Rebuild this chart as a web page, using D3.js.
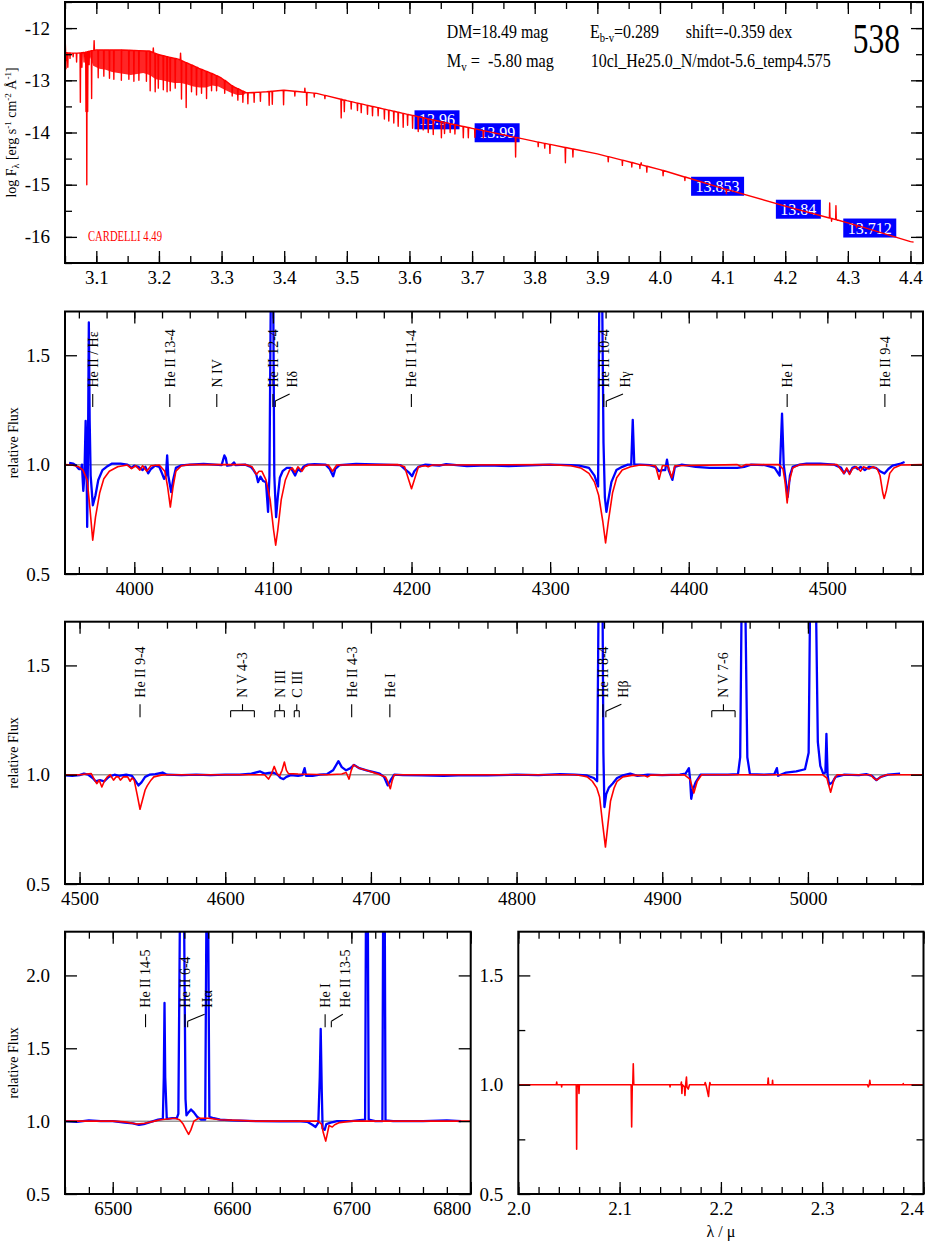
<!DOCTYPE html>
<html><head><meta charset="utf-8">
<script src="https://cdn.jsdelivr.net/npm/d3@7"></script>
<style>
body{margin:0;background:#fff}
svg{display:block}
</style></head>
<body><svg id="c" width="926" height="1245" style="font-family:'Liberation Serif',serif"></svg>
<script>
// ---------------- DATA ----------------
// Panel 1: SED (log lambda, log F)
const sedContinuum = [[3.050,-12.47],[3.060,-12.48],[3.070,-12.48],[3.080,-12.47],[3.090,-12.44],[3.100,-12.42],[3.140,-12.42],[3.185,-12.44],[3.200,-12.51],[3.232,-12.60],[3.264,-12.77],[3.287,-12.88],[3.300,-12.96],[3.319,-13.12],[3.340,-13.24],[3.372,-13.22],[3.400,-13.19],[3.452,-13.25],[3.500,-13.39],[3.548,-13.52],[3.600,-13.66],[3.680,-13.87],[3.700,-13.92],[3.800,-14.17],[3.900,-14.41],[4.000,-14.71],[4.100,-15.07],[4.200,-15.41],[4.300,-15.73],[4.400,-16.09],[4.405,-16.10]];
const sedForestLow = [[3.090,-12.55],[3.095,-12.72],[3.105,-12.78],[3.115,-12.80],[3.125,-12.84],[3.135,-12.86],[3.145,-12.88],[3.155,-12.90],[3.165,-12.88],[3.175,-12.86],[3.185,-12.90],[3.195,-12.98],[3.205,-13.00],[3.215,-13.03],[3.225,-13.05],[3.235,-13.05],[3.245,-13.08],[3.255,-13.12],[3.265,-13.14],[3.275,-13.14],[3.285,-13.10],[3.295,-13.12],[3.305,-13.18],[3.315,-13.24],[3.325,-13.28],[3.335,-13.28],[3.340,-13.24]];
const sedLines = [[3.0505,-12.30],[3.0515,-12.78],[3.053,-12.62],[3.0545,-12.75],[3.058,-12.58],[3.063,-12.55],[3.0685,-12.65],[3.0745,-13.42],[3.077,-12.75],[3.0805,-12.65],[3.0835,-13.6],[3.0848,-15.0],[3.0862,-13.6],[3.0885,-12.7],[3.0925,-13.35],[3.0965,-12.24],[3.103,-12.95],[3.112,-12.92],[3.121,-12.96],[3.128,-12.98],[3.140,-13.0],[3.152,-12.98],[3.160,-13.02],[3.168,-13.0],[3.180,-13.02],[3.186,-13.2],[3.191,-12.38],[3.194,-13.22],[3.199,-13.15],[3.207,-13.18],[3.213,-13.22],[3.218,-13.2],[3.226,-13.15],[3.2345,-12.48],[3.236,-13.36],[3.2435,-13.52],[3.252,-13.22],[3.260,-13.28],[3.268,-13.25],[3.276,-13.35],[3.284,-13.2],[3.292,-13.2],[3.305,-13.25],[3.317,-13.3],[3.326,-13.38],[3.334,-13.42],[3.342,-13.45],[3.352,-13.42],[3.362,-13.40],[3.376,-13.48],[3.381,-13.46],[3.399,-13.47],[3.417,-13.30],[3.433,-13.15],[3.436,-13.48],[3.448,-13.32],[3.465,-13.35],[3.491,-13.72],[3.496,-13.60],[3.507,-13.55],[3.517,-13.58],[3.523,-13.62],[3.533,-13.65],[3.541,-13.68],[3.550,-13.68],[3.560,-13.74],[3.567,-13.78],[3.575,-13.82],[3.582,-13.88],[3.590,-13.90],[3.597,-13.86],[3.605,-13.92],[3.614,-13.98],[3.622,-13.95],[3.630,-14.0],[3.638,-14.04],[3.651,-14.10],[3.656,-14.02],[3.665,-14.0],[3.6726,-14.03],[3.686,-14.10],[3.694,-14.10],[3.7045,-14.09],[3.718,-14.10],[3.7695,-14.47],[3.8056,-14.27],[3.816,-14.30],[3.8243,-14.40],[3.849,-14.58],[3.861,-14.47],[3.9174,-14.56],[3.940,-14.63],[3.955,-14.66],[3.968,-14.69],[3.970,-14.58],[3.979,-14.76],[4.005,-14.83],[4.0398,-14.92],[4.106,-15.17],[4.271,-15.35],[4.274,-15.70],[4.281,-15.40],[4.283,-15.68],[4.314,-15.82]];
const photLabels = ["13.96","13.99","13.853","13.84","13.712"];
const photLogLam = [3.644, 3.740, 4.092, 4.221, 4.335];
const photLogF = [-13.757, -14.005, -15.03, -15.47, -15.83];

// Panel 2: 3950-4569 A
const p2Obs = [[3953,1.008],[3956,1.005],[3958,0.995],[3960,0.98],[3961.5,0.98],[3962.2,1.0],[3963.2,0.88],[3964,0.95],[3964.9,1.2],[3965.5,1.05],[3966,0.715],[3966.5,1.0],[3967.2,1.65],[3967.8,1.2],[3968.5,0.95],[3970.1,0.814],[3972,0.86],[3974,0.93],[3977,0.975],[3980,0.99],[3984,1.005],[3990,1.005],[3995,1.0],[3998,0.985],[4000,0.995],[4003,0.99],[4006,0.975],[4008,0.99],[4010,0.96],[4012,0.98],[4015,0.995],[4018,0.99],[4020,0.96],[4021.5,0.935],[4022.8,0.95],[4023.7,1.042],[4024.5,0.95],[4026.6,0.875],[4028,0.93],[4030,0.985],[4034,0.997],[4040,1.0],[4050,1.003],[4058,1.0],[4063,0.998],[4065,1.042],[4066,1.03],[4067,0.995],[4070,0.998],[4072,1.01],[4073,0.998],[4080,1.0],[4084,0.99],[4086,0.975],[4088,0.955],[4089.3,0.92],[4091,0.945],[4093,0.925],[4095,0.92],[4096.5,0.784],[4097.5,0.95],[4098.5,1.8],[4100.2,1.8],[4101,0.95],[4102.3,0.76],[4103.5,0.85],[4105,0.94],[4107,0.97],[4110,0.985],[4113,0.985],[4116,0.95],[4118,0.98],[4120,0.97],[4122,0.99],[4125,1.0],[4130,1.002],[4138,1.0],[4141,0.98],[4143.5,0.947],[4145,0.98],[4148,0.998],[4160,1.003],[4180,1.0],[4192,0.998],[4195,0.98],[4198,0.965],[4200.4,0.947],[4202,0.97],[4205,0.99],[4210,1.0],[4220,0.995],[4225,1.002],[4240,0.993],[4250,0.996],[4260,0.995],[4270,0.993],[4280,0.996],[4300,1.0],[4315,0.998],[4321,0.995],[4328,0.985],[4332,0.95],[4334.6,0.90],[4335.5,1.8],[4337.5,1.8],[4338.5,1.1],[4339.5,0.85],[4340.6,0.784],[4342,0.84],[4344.2,0.92],[4347.8,0.975],[4352,0.99],[4356,1.0],[4358.5,1.0],[4359.6,1.205],[4360.7,1.0],[4365,1.0],[4372,0.998],[4376,0.99],[4378.6,0.97],[4381,0.975],[4383,0.975],[4384.3,1.023],[4385.5,0.975],[4388.2,0.93],[4390,0.99],[4395,1.0],[4405,0.99],[4415,0.985],[4425,0.985],[4435,0.985],[4440,0.99],[4445,1.0],[4455,0.998],[4462,0.985],[4465.6,0.95],[4467.3,1.233],[4468.5,1.0],[4471.4,0.852],[4473,0.95],[4475,0.99],[4480,1.0],[4485,1.005],[4495,1.005],[4505,1.0],[4510,0.985],[4512,0.96],[4514,0.98],[4516,0.96],[4518,0.985],[4520,0.99],[4522,0.98],[4524,0.99],[4527,0.975],[4530,0.99],[4535,0.985],[4538,0.97],[4541.2,0.959],[4544,0.98],[4547,0.995],[4550,1.0],[4553,1.005],[4555.7,1.012]];
const p2Model = [[3950,1.0],[3955,0.998],[3960,0.99],[3963,0.975],[3966,0.93],[3968,0.80],[3970,0.655],[3972,0.76],[3975,0.87],[3978,0.935],[3982,0.97],[3988,0.99],[3995,0.998],[3998,0.982],[4001,0.995],[4004,0.975],[4006,0.995],[4009,0.97],[4012,0.995],[4018,0.998],[4022,0.97],[4024,0.9],[4026,0.806],[4028,0.9],[4030,0.97],[4034,0.995],[4040,1.0],[4080,1.0],[4085,0.99],[4088,0.955],[4090,0.97],[4092,0.97],[4095,0.93],[4098,0.84],[4100.5,0.70],[4102,0.632],[4103.5,0.70],[4106,0.84],[4109,0.93],[4112,0.975],[4114,0.985],[4116,0.965],[4118,0.99],[4121,0.97],[4123,0.99],[4126,0.998],[4140,0.998],[4143,0.97],[4146,0.998],[4190,1.0],[4195,0.99],[4198,0.93],[4200,0.89],[4202,0.93],[4205,0.99],[4210,0.995],[4212,0.99],[4215,0.998],[4300,1.0],[4315,0.995],[4322,0.985],[4328,0.96],[4332,0.92],[4335,0.86],[4338,0.74],[4340,0.642],[4342,0.74],[4345,0.87],[4348,0.94],[4352,0.975],[4358,0.99],[4365,0.998],[4376,0.995],[4378.6,0.933],[4381,0.995],[4385,0.995],[4387.7,0.94],[4390,0.995],[4435,1.0],[4438,0.99],[4441,1.0],[4465,1.0],[4468,0.98],[4469.5,0.92],[4471,0.825],[4472.5,0.92],[4475,0.985],[4480,1.0],[4507,1.0],[4510,0.975],[4512,0.96],[4514,0.985],[4516,0.955],[4518,0.98],[4521,0.99],[4524,0.97],[4526,0.99],[4530,0.98],[4533,0.99],[4536,0.98],[4538,0.95],[4540,0.87],[4541,0.845],[4542.5,0.88],[4545,0.96],[4548,0.985],[4553,0.998],[4569,1.0]];
const p2Ids = [["He II / Hε",3970,3970],["He II 13-4",4025.6,4025.6],["N IV",4059.5,4059.5],["He II 12-4",4100,4100],["Hδ",4101.7,4113.5],["He II 11-4",4199.9,4199.9],["He II 10-4",4338.7,4338.7],["Hγ",4340.5,4354],["He I",4471,4471],["He II 9-4",4541.5,4541.5]];

// Panel 3: 4490-5079 A
const p3Obs = [[4490,0.997],[4495,0.995],[4500,0.998],[4503,1.005],[4506,1.0],[4509,0.985],[4511,0.97],[4514,0.975],[4517,0.97],[4520,0.99],[4524,1.0],[4527,0.995],[4532,1.0],[4536,0.995],[4538,0.975],[4540.4,0.951],[4542.5,0.965],[4545,0.99],[4548,1.0],[4552,1.003],[4557,1.01],[4560,1.0],[4570,0.998],[4580,1.0],[4590,0.998],[4600,1.0],[4610,1.0],[4618,1.005],[4624,1.015],[4627,1.005],[4630,1.008],[4633,1.01],[4636,1.0],[4638,0.985],[4640,0.98],[4642,0.99],[4645,0.998],[4650,0.995],[4653,0.998],[4654.5,1.03],[4655.5,0.995],[4660,0.995],[4665,1.0],[4670,1.003],[4674,1.02],[4677.7,1.062],[4680,1.035],[4683,1.02],[4686,1.03],[4688.4,1.045],[4692,1.03],[4697,1.02],[4702,1.012],[4706,1.005],[4709,0.99],[4711.6,0.951],[4713.5,0.975],[4716,1.0],[4722,0.998],[4735,0.997],[4750,0.995],[4765,0.998],[4780,0.997],[4800,1.0],[4815,0.998],[4830,1.003],[4840,1.0],[4848,0.997],[4853,0.985],[4855.3,0.97],[4856.3,1.8],[4859,1.8],[4859.6,1.1],[4860.3,0.852],[4861.5,0.91],[4863.3,0.94],[4866,0.96],[4869,0.985],[4873,0.997],[4878,1.005],[4883,0.995],[4890,1.0],[4900,0.998],[4912,1.0],[4916,1.005],[4918.3,1.03],[4919.1,0.98],[4919.9,0.89],[4921,0.93],[4922.9,0.965],[4926.3,1.0],[4935,1.0],[4945,1.0],[4952,1.003],[4953.5,1.08],[4954.5,1.8],[4957,1.8],[4958.4,1.08],[4960.2,1.003],[4970,1.0],[4977,1.003],[4978.7,1.03],[4979.5,0.995],[4985,1.01],[4992,1.015],[4998,1.025],[5000.5,1.1],[5001.5,1.8],[5005.5,1.8],[5006.8,1.15],[5008.5,1.04],[5010.5,1.005],[5012,1.01],[5012.7,1.187],[5013.5,1.0],[5014.5,0.955],[5016.8,0.965],[5019,0.99],[5025,1.0],[5035,0.998],[5040,1.003],[5044,0.995],[5047,0.975],[5050,0.99],[5055,1.0],[5063.3,1.005]];
const p3Model = [[4490,1.0],[4500,1.0],[4505,1.003],[4508,1.005],[4510,0.98],[4511.8,0.959],[4513.5,0.975],[4515.3,0.944],[4517,0.97],[4519,0.99],[4521,1.0],[4523.3,0.975],[4525,0.99],[4526.7,0.99],[4528,0.975],[4530,0.99],[4533,0.99],[4534.7,0.97],[4536,0.985],[4537.5,0.975],[4539.5,0.91],[4541.5,0.842],[4543,0.88],[4545,0.93],[4546.5,0.95],[4549,0.975],[4551,0.99],[4556,0.998],[4560,1.0],[4620,1.0],[4627,1.0],[4629.7,0.98],[4631.5,1.0],[4633.6,1.038],[4635.5,1.005],[4637.3,0.995],[4639,1.02],[4640.6,1.058],[4642,1.02],[4643.4,1.005],[4650,1.003],[4670,1.0],[4680,1.003],[4683,1.01],[4685,0.98],[4686.5,1.02],[4688,1.045],[4692,1.03],[4697,1.02],[4704,1.005],[4710,0.99],[4711.5,0.97],[4713.3,0.936],[4714.5,0.97],[4716,1.0],[4720,1.0],[4840,1.0],[4845,0.995],[4848.5,0.99],[4852,0.97],[4855,0.94],[4857,0.898],[4859,0.78],[4861,0.669],[4862.5,0.76],[4864.5,0.88],[4867,0.94],[4869,0.97],[4873,0.99],[4880,0.998],[4888,0.995],[4890,0.99],[4892,0.998],[4915,1.0],[4919,0.98],[4921.7,0.916],[4924,0.97],[4927,1.0],[5010,1.0],[5013,0.985],[5015.6,0.92],[5018,0.98],[5020,1.0],[5043,1.0],[5045,0.985],[5047.2,0.975],[5050,0.99],[5054,1.0],[5079,1.0]];
const p3Ids = [["He II 9-4",4541.5,4541.5],["He II 4-3",4686.8,4686.8],["He I",4713,4713],["He II 8-4",4859.3,4859.3],["Hβ",4861.3,4873.3]];
const p3Brackets = [["N V 4-3",4603.7,4620.0],["N III",4634.1,4640.6],["C III",4647.4,4650.8],["N V 7-6",4934,4950]];

// Panel 4: 6460-6800 A
const p4Obs = [[6460,1.0],[6470,0.995],[6480,1.005],[6490,1.0],[6500,1.0],[6510,0.99],[6517,0.985],[6522,0.975],[6526,0.98],[6532,0.995],[6538,1.01],[6542,1.015],[6542.8,1.3],[6543.4,1.811],[6544,1.3],[6545.3,1.015],[6550,1.02],[6553.7,1.02],[6555,1.05],[6556.3,2.4],[6559.8,2.4],[6561,1.15],[6561.8,1.04],[6563.5,1.06],[6565.6,1.08],[6568,1.06],[6570.7,1.03],[6574,1.01],[6577.5,1.01],[6578.5,2.4],[6580,2.4],[6581,1.03],[6584.6,1.02],[6590,1.01],[6600,1.005],[6620,1.0],[6640,0.998],[6655,1.0],[6663,0.995],[6667.3,0.975],[6670,0.96],[6672.3,0.99],[6673.5,1.3],[6674.3,1.633],[6675.2,1.2],[6675.9,0.95],[6677.6,0.94],[6679,0.98],[6682.6,0.99],[6688,1.0],[6700,1.0],[6705,1.005],[6711.5,1.01],[6712.2,2.4],[6713.8,2.4],[6714.5,1.01],[6720,1.0],[6726,1.0],[6726.6,2.4],[6728,2.4],[6728.6,1.005],[6735,1.0],[6760,1.0],[6780,1.005],[6792,1.0]];
const p4Model = [[6460,1.0],[6500,1.0],[6510,0.995],[6520,0.98],[6527,0.985],[6535,1.0],[6540,1.01],[6552,1.02],[6556,1.01],[6559,0.98],[6561.5,0.94],[6563.6,0.909],[6565.5,0.94],[6568,1.0],[6572,1.02],[6580,1.02],[6590,1.01],[6605,1.005],[6620,1.0],[6665,1.0],[6672,1.0],[6675,0.98],[6676.5,0.92],[6678.5,0.863],[6680,0.92],[6681.3,0.97],[6682.5,0.965],[6684,0.96],[6686,0.975],[6690,0.99],[6700,1.0],[6800,1.0]];
const p4Ids = [["He II 14-5",6527.5,6527.5],["He II 6-4",6560.5,6560.5],["Hα",6562.8,6578.7],["He I",6678,6678],["He II 13-5",6683.2,6694.5]];

// Panel 5: 2.0-2.4 micron (model only)
const p5Model = [[2.0,1.0],[2.0375,1.0],[2.0379,1.012],[2.0383,1.0],[2.0425,1.0],[2.0428,0.99],[2.0431,1.0],[2.0572,1.0],[2.0576,0.705],[2.058,1.0],[2.0595,1.0],[2.0599,0.96],[2.0603,1.0],[2.1114,1.0],[2.1119,0.807],[2.1125,1.0],[2.113,1.0],[2.1135,1.096],[2.114,1.0],[2.1495,1.0],[2.1498,0.99],[2.1501,1.0],[2.1605,1.0],[2.161,1.012],[2.1615,0.96],[2.162,1.0],[2.164,0.99],[2.1645,0.951],[2.1652,1.0],[2.166,1.035],[2.1665,0.99],[2.1678,0.98],[2.169,1.0],[2.184,1.0],[2.1845,1.01],[2.1855,0.995],[2.1878,0.946],[2.1885,0.99],[2.1891,1.01],[2.1897,1.0],[2.2462,1.0],[2.2467,1.03],[2.2472,1.0],[2.2507,1.0],[2.251,1.02],[2.2513,1.0],[2.3448,1.0],[2.3454,0.99],[2.3465,1.0],[2.347,1.02],[2.3475,1.0],[2.3798,1.0],[2.38,1.005],[2.3802,1.0],[2.4,1.0]];

// ticks & labels
const p1XTicks = [3.1,3.2,3.3,3.4,3.5,3.6,3.7,3.8,3.9,4.0,4.1,4.2,4.3,4.4];
const p1XLabels = ["3.1","3.2","3.3","3.4","3.5","3.6","3.7","3.8","3.9","4.0","4.1","4.2","4.3","4.4"];
const p1YTicks = [-16,-15,-14,-13,-12];
const p1YLabels = ["-16","-15","-14","-13","-12"];
const p2XTicks = [4000,4100,4200,4300,4400,4500];
const p3XTicks = [4500,4600,4700,4800,4900,5000];
const p4XTicks = [6500,6600,6700,6800];
const p5XTicks = [2.0,2.1,2.2,2.3,2.4];
const p5XLabels = ["2.0","2.1","2.2","2.3","2.4"];
const fluxTicks = [0.5,1.0,1.5];
const fluxLabels = ["0.5","1.0","1.5"];
const p4YTicks = [0.5,1.0,1.5,2.0];
const p4YLabels = ["0.5","1.0","1.5","2.0"];

// ---------------- DRAWING ----------------
const FONT = "'Liberation Serif', serif";
const RED = "#ff0000", BLUE = "#0000ff";
const TICKFS = 19;
const svg = d3.select("#c");

function T(sel) { return sel.style("font-family", FONT); }

function stepTicks(a, b, s) { const out = []; for (let v = a; v <= b + s * 1e-6; v += s) out.push(+v.toFixed(6)); return out; }

function addAxis(p, orient, vals, size, labels) {
  const gen = {b: d3.axisBottom, t: d3.axisTop, l: d3.axisLeft, r: d3.axisRight}[orient];
  const sc = (orient === "b" || orient === "t") ? p.xs : p.ys;
  const ax = gen(sc).tickValues(vals).tickSizeInner(-size).tickSizeOuter(0)
    .tickPadding(orient === "l" ? 15 : 8)
    .tickFormat(labels ? (d, i) => labels[i] : () => "");
  const pos = {b: p.y1, t: p.y0, l: p.x0, r: p.x1}[orient];
  const g = svg.append("g")
    .attr("transform", (orient === "b" || orient === "t") ? `translate(0,${pos})` : `translate(${pos},0)`)
    .call(ax);
  g.select(".domain").remove();
  g.attr("font-family", null).attr("font-size", TICKFS);
  g.selectAll(".tick line").attr("stroke", "#000").attr("stroke-width", 1.3);
  T(g.selectAll(".tick text")).attr("fill", "#000").style("font-size", TICKFS + "px");
  if (orient === "b" && labels) {
    g.selectAll(".tick").each(function(d) {
      const t = d3.select(this).select("text");
      const w = t.node().getComputedTextLength();
      const tx = p.xs(d);
      if (tx + w / 2 > p.x1 + 1) t.attr("x", p.x1 - w / 2 - tx);
    });
  }
  return g;
}

function makePanel(p) {
  p.xs = d3.scaleLinear().domain(p.xd).range([p.x0, p.x1]);
  p.ys = d3.scaleLinear().domain(p.yd).range([p.y1, p.y0]);
  if (p.refLine) {
    svg.append("line").attr("x1", p.x0).attr("x2", p.x1)
      .attr("y1", p.ys(1)).attr("y2", p.ys(1))
      .attr("stroke", "#9a9a9a").attr("stroke-width", 1.5);
  }
  const cid = "clip" + p.name;
  svg.append("clipPath").attr("id", cid).append("rect")
    .attr("x", p.x0).attr("y", p.y0).attr("width", p.x1 - p.x0).attr("height", p.y1 - p.y0);
  p.plot = svg.append("g").attr("clip-path", `url(#${cid})`);
  return p;
}

function finishPanel(p) {
  if (p.xMinor) { addAxis(p, "b", p.xMinor, 7, null); addAxis(p, "t", p.xMinor, 7, null); }
  if (p.yMinor) { addAxis(p, "l", p.yMinor, 7, null); addAxis(p, "r", p.yMinor, 7, null); }
  addAxis(p, "b", p.xMajor, 12, p.xLabels);
  addAxis(p, "t", p.xMajor, 12, null);
  addAxis(p, "l", p.yMajor, 12, p.yLabels);
  addAxis(p, "r", p.yMajor, 12, null);
  svg.append("rect").attr("x", p.x0).attr("y", p.y0)
    .attr("width", p.x1 - p.x0).attr("height", p.y1 - p.y0)
    .attr("fill", "none").attr("stroke", "#000").attr("stroke-width", 2);
}

function drawSeries(p, data, color, width) {
  const line = d3.line().x(d => p.xs(d[0])).y(d => p.ys(d[1]));
  p.plot.append("path").datum(data).attr("d", line)
    .attr("fill", "none").attr("stroke", color).attr("stroke-width", width)
    .attr("stroke-linejoin", "round");
}

function idText(x, y, txt) {
  T(svg.append("text")).attr("transform", `translate(${x},${y}) rotate(-90)`)
    .attr("dy", "0.35em").attr("font-size", 14).attr("fill", "#000").text(txt);
}
function seg(x1, y1, x2, y2) {
  svg.append("line").attr("x1", x1).attr("y1", y1).attr("x2", x2).attr("y2", y2)
    .attr("stroke", "#000").attr("stroke-width", 1.1);
}
function drawIds(p, ids, brackets) {
  const yT = p.y0;
  ids.forEach(([t, a, b]) => {
    const xa = p.xs(a), xb = p.xs(b);
    if (Math.abs(xa - xb) < 0.5) {
      seg(xa, yT + 82.5, xa, yT + 95.5);
    } else {
      seg(xa, yT + 95.5, xa, yT + 89.5);
      seg(xa, yT + 89.5, xb - 2, yT + 82.5);
    }
    idText(xb, yT + 76, t);
  });
  (brackets || []).forEach(([t, a, b]) => {
    const xa = p.xs(a), xb = p.xs(b), xm = (xa + xb) / 2;
    seg(xa, yT + 89, xb, yT + 89);
    seg(xa, yT + 89, xa, yT + 95.5);
    seg(xb, yT + 89, xb, yT + 95.5);
    seg(xm, yT + 89, xm, yT + 82.5);
    idText(xm, yT + 76, t);
  });
}

// ---- Panel 1 ----
const P1 = makePanel({name: "p1", x0: 65, x1: 923, y0: 2, y1: 263, xd: [3.05, 4.42], yd: [-16.5, -11.5],
  xMajor: p1XTicks, xLabels: p1XLabels, xMinor: stepTicks(3.05, 4.40, 0.05),
  yMajor: p1YTicks, yLabels: p1YLabels, yMinor: stepTicks(-16.5, -11.5, 0.5)});

function contAt(x) {
  const i = d3.bisector(d => d[0]).right(sedContinuum, x);
  if (i <= 0) return sedContinuum[0][1];
  if (i >= sedContinuum.length) return sedContinuum[sedContinuum.length - 1][1];
  const a = sedContinuum[i - 1], b = sedContinuum[i];
  return a[1] + (x - a[0]) / (b[0] - a[0]) * (b[1] - a[1]);
}
// photometry boxes
photLabels.forEach((lab, i) => {
  const cx = P1.xs(photLogLam[i]), cy = P1.ys(photLogF[i]);
  const r = P1.plot.append("rect").attr("fill", BLUE);
  const t = T(P1.plot.append("text")).attr("x", cx).attr("y", cy + 5.5).attr("text-anchor", "middle")
    .attr("font-size", 16).attr("fill", "#fff").text(lab);
  const w = t.node().getComputedTextLength() + 9;
  r.attr("x", cx - w / 2).attr("y", cy - 9.5).attr("width", w).attr("height", 19);
});
// forest band
P1.plot.append("path").datum(sedForestLow)
  .attr("d", d3.area().x(d => P1.xs(d[0])).y0(d => P1.ys(d[1])).y1(d => P1.ys(contAt(d[0]))))
  .attr("fill", RED).attr("opacity", 0.85);
// SED line
const sedPts = sedContinuum.map(d => [d[0], d[1]]);
sedLines.forEach(([x, v]) => { const c = contAt(x); sedPts.push([x - 0.0005, c], [x, v], [x + 0.0005, c]); });
sedPts.sort((a, b) => a[0] - b[0]);
drawSeries(P1, sedPts, RED, 1.4);
finishPanel(P1);

// header texts
function fitText(x, y, size, width, parts, color) {
  const t = T(svg.append("text")).attr("font-size", size).attr("fill", color || "#000").style("white-space", "pre");
  parts.forEach(pt => {
    if (typeof pt === "string") t.append("tspan").text(pt);
    else t.append("tspan").attr("font-size", pt.s).attr("dy", pt.dy).text(pt.t);
  });
  const w = t.node().getBBox().width;
  t.attr("transform", `translate(${x},${y}) scale(${width / w},1)`);
  return t;
}
fitText(446.7, 38.3, 18, 101.6, ["DM=18.49 mag"]);
fitText(590, 38.3, 18, 69, ["E", {t: "b-v", s: 12, dy: 4}, {t: "=0.289", s: 18, dy: -4}]);
fitText(685.7, 38.3, 18, 106.6, ["shift=-0.359 dex"]);
fitText(852.7, 53.3, 42, 47.3, ["538"]);
fitText(446.7, 66.7, 18, 107.3, ["M", {t: "v", s: 12, dy: 4}, {t: " =  -5.80 mag", s: 18, dy: -4}]);
fitText(590.7, 66.7, 18, 240.3, ["10cl_He25.0_N/mdot-5.6_temp4.575"]);
fitText(88, 240.5, 14, 74, ["CARDELLI 4.49"], RED);

// y label panel 1
{
  const yl = T(svg.append("text")).attr("transform", "translate(16,132.5) rotate(-90)")
    .attr("text-anchor", "middle").attr("font-size", 14).attr("fill", "#000");
  yl.append("tspan").text("log F");
  yl.append("tspan").attr("font-size", 10).attr("dy", 3).text("λ");
  yl.append("tspan").attr("font-size", 14).attr("dy", -3).text(" [erg s");
  yl.append("tspan").attr("font-size", 9).attr("dy", -5).text("-1");
  yl.append("tspan").attr("font-size", 14).attr("dy", 5).text(" cm");
  yl.append("tspan").attr("font-size", 9).attr("dy", -5).text("-2");
  yl.append("tspan").attr("font-size", 14).attr("dy", 5).text(" Å");
  yl.append("tspan").attr("font-size", 9).attr("dy", -5).text("-1");
  yl.append("tspan").attr("font-size", 14).attr("dy", 5).text("]");
}

function relFluxLabel(p) {
  T(svg.append("text")).attr("transform", `translate(18,${(p.y0 + p.y1) / 2}) rotate(-90)`)
    .attr("text-anchor", "middle").attr("font-size", 14).attr("fill", "#000").text("relative Flux");
}

// ---- Panel 2 ----
const P2 = makePanel({name: "p2", x0: 65, x1: 923, y0: 311.5, y1: 574, xd: [3950, 4569], yd: [0.5, 1.7],
  xMajor: p2XTicks, xLabels: p2XTicks.map(String), xMinor: stepTicks(3960, 4560, 20),
  yMajor: fluxTicks, yLabels: fluxLabels, refLine: true});
drawSeries(P2, p2Obs, BLUE, 2.3);
drawSeries(P2, p2Model, RED, 1.6);
finishPanel(P2);
drawIds(P2, p2Ids, []);
relFluxLabel(P2);

// ---- Panel 3 ----
const P3 = makePanel({name: "p3", x0: 65, x1: 923, y0: 621.7, y1: 884, xd: [4490, 5079], yd: [0.5, 1.7],
  xMajor: p3XTicks, xLabels: p3XTicks.map(String), xMinor: stepTicks(4500, 5060, 20),
  yMajor: fluxTicks, yLabels: fluxLabels, refLine: true});
drawSeries(P3, p3Obs, BLUE, 2.3);
drawSeries(P3, p3Model, RED, 1.6);
finishPanel(P3);
drawIds(P3, p3Ids, p3Brackets);
relFluxLabel(P3);

// ---- Panel 4 ----
const P4 = makePanel({name: "p4", x0: 65, x1: 470.7, y0: 931.7, y1: 1194, xd: [6460, 6800], yd: [0.5, 2.3],
  xMajor: p4XTicks, xLabels: p4XTicks.map(String), xMinor: stepTicks(6460, 6800, 20),
  yMajor: p4YTicks, yLabels: p4YLabels, refLine: true});
drawSeries(P4, p4Obs, BLUE, 2.3);
drawSeries(P4, p4Model, RED, 1.6);
finishPanel(P4);
drawIds(P4, p4Ids, []);
relFluxLabel(P4);

// ---- Panel 5 ----
const P5 = makePanel({name: "p5", x0: 518.3, x1: 923.5, y0: 931.7, y1: 1194, xd: [2.0, 2.4], yd: [0.5, 1.7],
  xMajor: p5XTicks, xLabels: p5XLabels, xMinor: stepTicks(2.0, 2.4, 0.02),
  yMajor: fluxTicks, yLabels: fluxLabels, yMinor: [0.75, 1.25]});
drawSeries(P5, p5Model, RED, 1.6);
finishPanel(P5);
T(svg.append("text")).attr("x", (P5.x0 + P5.x1) / 2).attr("y", 1237).attr("text-anchor", "middle")
  .attr("font-size", 16).attr("fill", "#000").text("λ / μ");
</script>
</body></html>
